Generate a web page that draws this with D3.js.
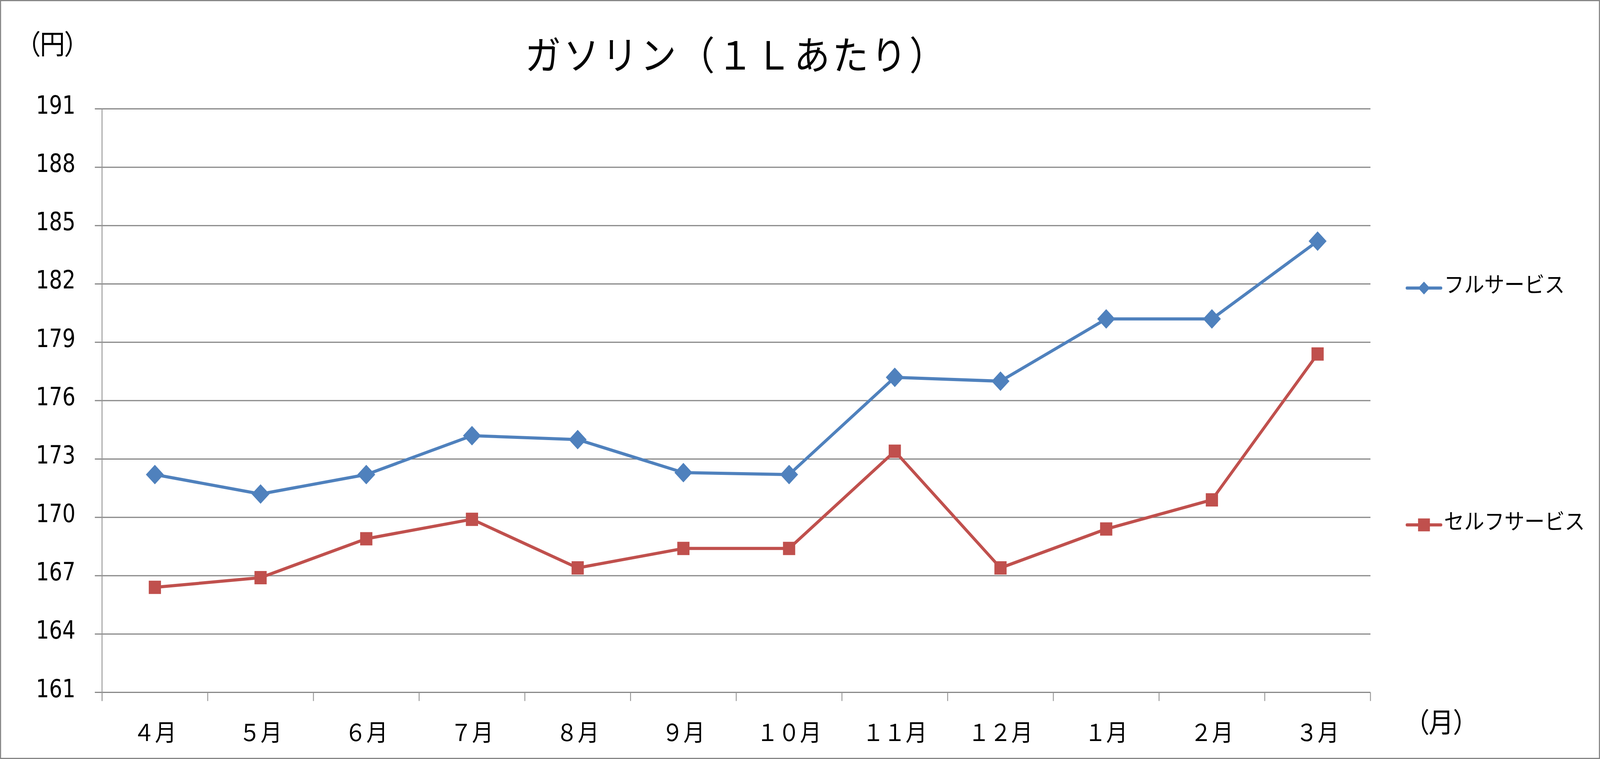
<!DOCTYPE html>
<html>
<head>
<meta charset="utf-8">
<script src="https://cdn.jsdelivr.net/npm/d3@7/dist/d3.min.js"></script>
<style>
    html, body { margin: 0; padding: 0; background: #fff; overflow: hidden; }
    .gas-chart { width: 100vw; height: 100vh; }
    .gas-chart svg { display: block; }
    text { font-family: "Noto Sans CJK JP", sans-serif; fill: #000; }
</style>
</head>
<body>
<div class="gas-chart"></div>
<script>
// values (yen per litre)
const months = ["４月", "５月", "６月", "７月", "８月", "９月", "１０月", "１１月", "１２月", "１月", "２月", "３月"];
const fullService = [172.2, 171.2, 172.2, 174.2, 174.0, 172.3, 172.2, 177.2, 177.0, 180.2, 180.2, 184.2];
const selfService = [166.4, 166.9, 168.9, 169.9, 167.4, 168.4, 168.4, 173.4, 167.4, 169.4, 170.9, 178.4];
const yTicks = [161, 164, 167, 170, 173, 176, 179, 182, 185, 188, 191];
const seriesNames = ["フルサービス", "セルフサービス"];
const seriesColors = ["#4f81bd", "#c0504d"];

const width = 4454;
const height = 1942;
const plot = {left: 284, right: 3815, top: 278.6, bottom: 1771.6};

// viewBox so the chart fills the window whatever size it really is
const svg = d3.select(".gas-chart")
    .append("svg")
    .attr("viewBox", `0 0 ${width} ${height}`)
    .attr("preserveAspectRatio", "none")
    .attr("width", "100%")
    .attr("height", "100%");

// outer frame
svg.append("rect")
    .attr("x", 1.5).attr("y", 1.5)
    .attr("width", width - 3).attr("height", height - 3)
    .attr("fill", "#fff")
    .attr("stroke", "#878787")
    .attr("stroke-width", 3);

// scales
const xScale = d3.scaleBand()
    .domain(months)
    .range([plot.left, plot.right]);

const yScale = d3.scaleLinear()
    .domain([161, 191])
    .range([plot.bottom, plot.top]);

const xMid = (d) => xScale(d) + xScale.bandwidth() / 2;

// horizontal gridlines (they poke out a bit left of the axis like excel's tick marks)
svg.append("g")
    .selectAll("line")
    .data(yTicks)
    .join("line")
    .attr("x1", plot.left - 20)
    .attr("x2", plot.right)
    .attr("y1", (d) => yScale(d))
    .attr("y2", (d) => yScale(d))
    .attr("stroke", "#878787")
    .attr("stroke-width", 3);

// y axis labels
const yAxis = svg.append("g")
    .attr("transform", `translate(${plot.left},0)`)
    .call(d3.axisLeft(yScale).tickValues(yTicks).tickSize(0).tickPadding(74).tickFormat(d3.format("d")));
yAxis.select(".domain").remove();
yAxis.selectAll("text")
    .attr("dy", "0.35em")
    .attr("y", -11)
    .style("font-family", "'DejaVu Sans Condensed', 'DejaVu Sans', sans-serif")
    .style("font-stretch", "condensed")
    .style("font-size", "64px");

// vertical axis line
svg.append("line")
    .attr("x1", plot.left).attr("x2", plot.left)
    .attr("y1", plot.top).attr("y2", plot.bottom + 22)
    .attr("stroke", "#969696")
    .attr("stroke-width", 2.5);

// category tick marks between months
const boundaries = months.map((m) => xScale(m)).concat([plot.right]);
svg.append("g")
    .selectAll("line")
    .data(boundaries)
    .join("line")
    .attr("x1", (d) => d).attr("x2", (d) => d)
    .attr("y1", plot.bottom).attr("y2", plot.bottom + 22)
    .attr("stroke", "#969696")
    .attr("stroke-width", 2.5);

// month labels
const xAxis = svg.append("g")
    .attr("transform", `translate(0,${plot.bottom})`)
    .call(d3.axisBottom(xScale).tickSize(0));
xAxis.select(".domain").remove();
xAxis.selectAll("text")
    .attr("dy", null)
    .attr("y", 124)
    .style("font-size", "60px");

// series lines + markers
const series = [fullService, selfService];
const line = d3.line()
    .x((d, i) => xMid(months[i]))
    .y((d) => yScale(d));

series.forEach((values, s) => {
    svg.append("path")
        .datum(values)
        .attr("fill", "none")
        .attr("stroke", seriesColors[s])
        .attr("stroke-width", 8)
        .attr("stroke-linejoin", "round")
        .attr("d", line);
});

const diamond = d3.symbol().type(d3.symbolSquare).size(1250);
const square = d3.symbol().type(d3.symbolSquare).size(1156);

svg.append("g")
    .selectAll("path")
    .data(fullService)
    .join("path")
    .attr("d", diamond)
    .attr("fill", seriesColors[0])
    .attr("transform", (d, i) => `translate(${xMid(months[i])},${yScale(d)}) rotate(45)`);

svg.append("g")
    .selectAll("path")
    .data(selfService)
    .join("path")
    .attr("d", square)
    .attr("fill", seriesColors[1])
    .attr("transform", (d, i) => `translate(${xMid(months[i])},${yScale(d)})`);

// legend
const legendY = [737, 1343];
const legendSymbols = [
    {sym: d3.symbol().type(d3.symbolSquare).size(545), rot: 45},
    {sym: d3.symbol().type(d3.symbolSquare).size(1089), rot: 0}
];
seriesNames.forEach((name, s) => {
    const g = svg.append("g").attr("transform", `translate(0,${legendY[s]})`);
    g.append("line")
        .attr("x1", 3917).attr("x2", 4011)
        .attr("y1", 0).attr("y2", 0)
        .attr("stroke", seriesColors[s])
        .attr("stroke-width", 8)
        .attr("stroke-linecap", "round");
    g.append("path")
        .attr("d", legendSymbols[s].sym)
        .attr("fill", seriesColors[s])
        .attr("transform", `translate(3964,0) rotate(${legendSymbols[s].rot})`);
    g.append("text")
        .attr("x", 4020)
        .attr("y", 11)
        .style("font-size", "56px")
        .text(name);
});

// title and unit labels
svg.append("text")
    .attr("x", 2050)
    .attr("y", 178)
    .attr("text-anchor", "middle")
    .style("font-size", "100px")
    .style("letter-spacing", "7px")
    .text("ガソリン（１Ｌあたり）");

svg.append("text")
    .attr("x", 76)
    .attr("y", 139)
    .style("font-size", "70px")
    .style("font-feature-settings", "'palt'")
    .text("（円）");

svg.append("text")
    .attr("x", 3942)
    .attr("y", 1874)
    .style("font-size", "70px")
    .style("font-feature-settings", "'palt'")
    .text("（月）");
</script>
</body>
</html>
